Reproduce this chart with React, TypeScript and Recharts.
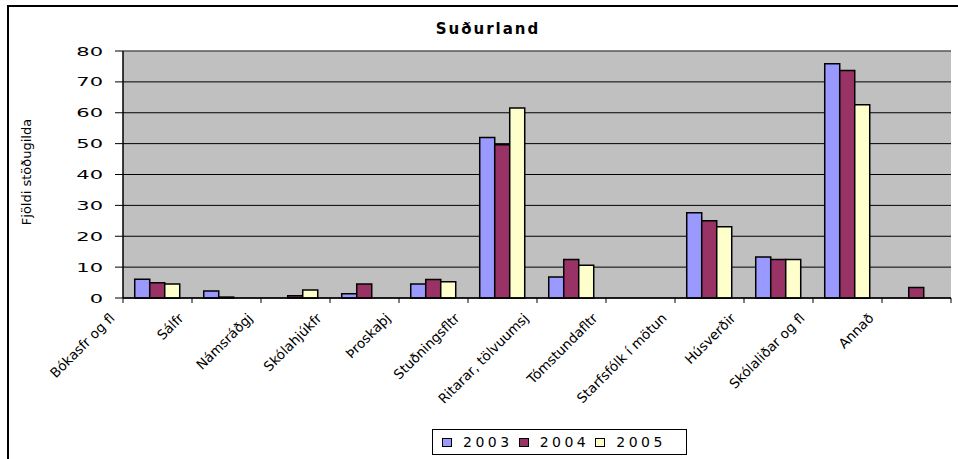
import React from "react";
import { BarChart, Bar, XAxis, YAxis, CartesianGrid, ReferenceLine } from "recharts";

const categories = [
  "Bókasfr og fl",
  "Sálfr",
  "Námsráðgj",
  "Skólahjúkfr",
  "Þroskaþj",
  "Stuðningsfltr",
  "Ritarar, tölvuumsj",
  "Tómstundafltr",
  "Starfsfólk í mötun",
  "Húsverðir",
  "Skólaliðar og fl",
  "Annað",
];

const s2003 = [6.1, 2.3, null, 1.4, 4.5, 52, 6.8, null, 27.6, 13.3, 75.9, null];
const s2004 = [4.9, 0.3, 0.7, 4.5, 6, 49.6, 12.5, null, 25, 12.5, 73.7, 3.4];
const s2005 = [4.5, null, 2.6, null, 5.3, 61.5, 10.6, null, 23.1, 12.5, 62.6, null];

const yTicks = [0, 10, 20, 30, 40, 50, 60, 70, 80];

const series = [
  { key: "2003", values: s2003, color: "#9999FF" },
  { key: "2004", values: s2004, color: "#993366" },
  { key: "2005", values: s2005, color: "#FFFFCC" },
];

const title = "Suðurland";
const yLabel = "Fjöldi stöðugilda";

const data = categories.map((c, i) => {
  const row: any = { name: c };
  series.forEach((s) => {
    row[s.key] = s.values[i];
  });
  return row;
});

const FONT = "'DejaVu Sans', Verdana, sans-serif";

const XTick = (props: any) => {
  const { x, y, payload, index, width } = props;
  const bw =
    payload && payload.offset ? payload.offset * 2 : (width || 827) / categories.length;
  const left = x - bw / 2;
  const right = x + bw / 2;
  return (
    <g>
      <line x1={left} y1={y} x2={left} y2={y + 5} stroke="#000" strokeWidth={1} />
      {index === categories.length - 1 && (
        <line x1={right} y1={y} x2={right} y2={y + 5} stroke="#000" strokeWidth={1} />
      )}
      <g transform={`translate(${x - 42},${y + 21})`}>
        <text
          transform="rotate(-45)"
          textAnchor="end"
          fontSize={13.5}
          fontFamily={FONT}
          fill="#000"
        >
          {payload.value}
        </text>
      </g>
    </g>
  );
};

const YTick = (props: any) => {
  const { x, y, payload } = props;
  return (
    <g transform={`translate(${x},${y})`}>
      <text
        transform="scale(1.75,1)"
        textAnchor="end"
        dy={4.5}
        fontSize={12}
        fontFamily={FONT}
        fill="#000"
      >
        {payload.value}
      </text>
    </g>
  );
};

export default function App() {
  return (
    <div
      style={{
        position: "absolute",
        left: 0,
        top: 0,
        width: 958,
        height: 459,
        overflow: "hidden",
        background: "#fff",
      }}
    >
      <div
        style={{
          position: "absolute",
          left: 7,
          top: 5,
          width: 980,
          height: 480,
          borderLeft: "2px solid #000",
          borderTop: "2px solid #000",
        }}
      />
      <div
        style={{
          position: "absolute",
          left: 388,
          top: 19,
          width: 200,
          textAlign: "center",
          fontFamily: FONT,
          fontWeight: "bold",
          fontSize: 15,
          letterSpacing: 2,
          lineHeight: "20px",
          color: "#000",
        }}
      >
        {title}
      </div>
      <div
        style={{
          position: "absolute",
          left: 27 - 100,
          top: 172 - 10,
          width: 200,
          height: 20,
          lineHeight: "20px",
          textAlign: "center",
          transform: "rotate(-90deg)",
          fontFamily: FONT,
          fontSize: 13,
          color: "#000",
        }}
      >
        {yLabel}
      </div>
      <div style={{ position: "absolute", left: 0, top: 0 }}>
        <BarChart
          width={958}
          height={459}
          data={data}
          margin={{ top: 51, right: 7, bottom: 0, left: 0 }}
          barCategoryGap="17%"
          barGap={0}
        >
          <CartesianGrid
            vertical={false}
            stroke="#000"
            strokeWidth={1}
            fill="#C0C0C0"
            fillOpacity={1}
          />
          <XAxis
            dataKey="name"
            interval={0}
            height={161}
            tickLine={false}
            tickSize={0}
            tickMargin={0}
            axisLine={{ stroke: "#000", strokeWidth: 1.5 }}
            tick={<XTick />}
          />
          <YAxis
            width={123}
            domain={[0, 80]}
            ticks={yTicks}
            interval={0}
            tickSize={8}
            tickMargin={12}
            axisLine={{ stroke: "#000", strokeWidth: 1.5 }}
            tickLine={{ stroke: "#000" }}
            tick={<YTick />}
          />
          <YAxis
            yAxisId="right"
            orientation="right"
            width={0}
            domain={[0, 80]}
            tick={false}
            tickLine={false}
            axisLine={{ stroke: "#808080", strokeWidth: 1 }}
          />
          <ReferenceLine y={80} stroke="#808080" strokeWidth={1} />
          {series.map((s) => (
            <Bar
              key={s.key}
              dataKey={s.key}
              fill={s.color}
              stroke="#000"
              strokeWidth={1.5}
              isAnimationActive={false}
            />
          ))}
        </BarChart>
      </div>
      <div
        style={{
          position: "absolute",
          left: 432,
          top: 429,
          width: 253,
          height: 24,
          border: "1px solid #000",
          background: "#fff",
          display: "flex",
          alignItems: "center",
          fontFamily: FONT,
          fontSize: 14,
          letterSpacing: 3.5,
          color: "#000",
        }}
      >
        {series.map((s, i) => (
          <div
            key={s.key}
            style={{
              display: "flex",
              alignItems: "center",
              marginLeft: i === 0 ? 9 : 6,
            }}
          >
            <span
              style={{
                display: "inline-block",
                width: 8,
                height: 7,
                background: s.color,
                border: "1px solid #000",
                marginRight: 11,
              }}
            />
            <span>{s.key}</span>
          </div>
        ))}
      </div>
    </div>
  );
}
